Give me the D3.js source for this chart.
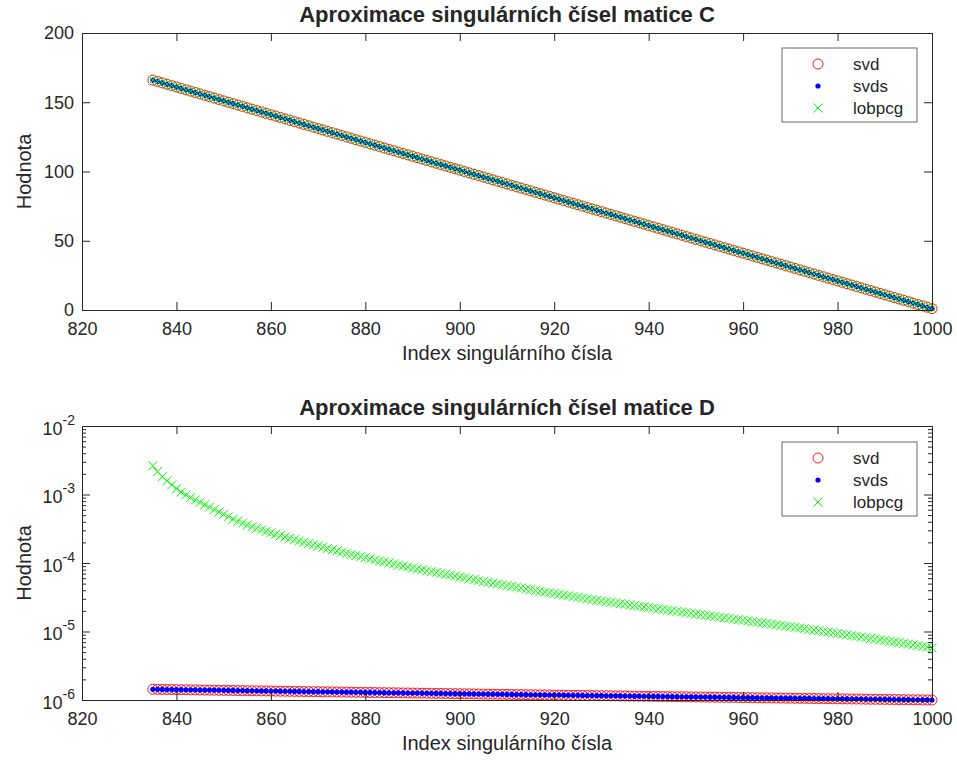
<!DOCTYPE html>
<html><head><meta charset="utf-8">
<script src="https://cdn.jsdelivr.net/npm/d3@7"></script>
<style>
body{margin:0;background:#fff}
svg text{font-family:"Liberation Sans",Arial,Helvetica,sans-serif;fill:#262626}
</style>
</head><body>
<svg id="chart" width="957" height="765"></svg>
<script>
// ---------------- DATA ----------------
const indices = d3.range(835, 1001); // index of singular value
const seriesNames = ["svd", "svds", "lobpcg"];
const seriesColors = ["#ff0000", "#0000ff", "#00ff00"];
const xTicks = [820, 840, 860, 880, 900, 920, 940, 960, 980, 1000];
const yTicksC = [0, 50, 100, 150, 200];
const yTicksD = [1e-6, 1e-5, 1e-4, 1e-3, 1e-2];
const yTickExpD = ["-6", "-5", "-4", "-3", "-2"];
const titleC = "Aproximace singulárních čísel matice C";
const titleD = "Aproximace singulárních čísel matice D";
const xLabel = "Index singulárního čísla";
const yLabel = "Hodnota";

// matrix C (all three methods coincide)
const svdC = [
166,165,164,163,162,161,160,159,158,157,156,155,154,153,152,151,150,149,148,147,
146,145,144,143,142,141,140,139,138,137,136,135,134,133,132,131,130,129,128,127,
126,125,124,123,122,121,120,119,118,117,116,115,114,113,112,111,110,109,108,107,
106,105,104,103,102,101,100,99,98,97,96,95,94,93,92,91,90,89,88,87,
86,85,84,83,82,81,80,79,78,77,76,75,74,73,72,71,70,69,68,67,
66,65,64,63,62,61,60,59,58,57,56,55,54,53,52,51,50,49,48,47,
46,45,44,43,42,41,40,39,38,37,36,35,34,33,32,31,30,29,28,27,
26,25,24,23,22,21,20,19,18,17,16,15,14,13,12,11,10,9,8,7,
6,5,4,3,2,1];
const svdsC = svdC;
const lobpcgC = svdC;

// matrix D: svd / svds values in units of 1e-6
const svdD_e6 = [
1.434,1.431,1.427,1.424,1.421,
1.417,1.414,1.411,1.407,1.404,1.400,1.397,1.394,1.391,1.387,
1.384,1.381,1.378,1.374,1.371,1.368,1.365,1.362,1.358,1.355,
1.352,1.349,1.346,1.343,1.340,1.336,1.333,1.330,1.327,1.324,
1.321,1.318,1.315,1.312,1.309,1.306,1.303,1.300,1.297,1.294,
1.291,1.288,1.285,1.282,1.280,1.277,1.274,1.271,1.268,1.265,
1.262,1.260,1.257,1.254,1.251,1.248,1.246,1.243,1.240,1.237,
1.235,1.232,1.229,1.226,1.224,1.221,1.218,1.216,1.213,1.210,
1.208,1.205,1.202,1.200,1.197,1.194,1.192,1.189,1.187,1.184,
1.181,1.179,1.176,1.174,1.171,1.169,1.166,1.164,1.161,1.159,
1.156,1.154,1.151,1.149,1.146,1.144,1.141,1.139,1.137,1.134,
1.132,1.129,1.127,1.125,1.122,1.120,1.117,1.115,1.113,1.110,
1.108,1.106,1.103,1.101,1.099,1.096,1.094,1.092,1.090,1.087,
1.085,1.083,1.081,1.078,1.076,1.074,1.072,1.069,1.067,1.065,
1.063,1.061,1.058,1.056,1.054,1.052,1.050,1.048,1.045,1.043,
1.041,1.039,1.037,1.035,1.033,1.031,1.028,1.026,1.024,1.022,
1.020,1.018,1.016,1.014,1.012,1.010,1.008,1.006,1.004,1.002,
1.000];
const svdsD_e6 = svdD_e6;
// matrix D: lobpcg values as log10
const lobpcgD_log10 = [
-2.580,-2.665,-2.740,-2.800,-2.860,
-2.915,-2.965,-3.005,-3.045,-3.080,-3.115,-3.150,-3.185,-3.220,-3.255,
-3.290,-3.325,-3.360,-3.390,-3.418,-3.445,-3.470,-3.494,-3.517,-3.539,
-3.560,-3.581,-3.601,-3.621,-3.641,-3.660,-3.679,-3.698,-3.717,-3.735,
-3.753,-3.771,-3.789,-3.807,-3.824,-3.841,-3.858,-3.875,-3.891,-3.907,
-3.923,-3.939,-3.955,-3.970,-3.985,-4.000,-4.015,-4.030,-4.045,-4.059,
-4.073,-4.087,-4.101,-4.114,-4.127,-4.140,-4.153,-4.166,-4.179,-4.192,
-4.205,-4.218,-4.231,-4.244,-4.257,-4.270,-4.282,-4.294,-4.306,-4.318,
-4.330,-4.342,-4.354,-4.366,-4.378,-4.389,-4.401,-4.412,-4.424,-4.435,
-4.446,-4.457,-4.468,-4.479,-4.490,-4.501,-4.512,-4.523,-4.534,-4.544,
-4.554,-4.564,-4.574,-4.584,-4.594,-4.603,-4.613,-4.622,-4.632,-4.641,
-4.651,-4.660,-4.670,-4.679,-4.688,-4.698,-4.707,-4.716,-4.726,-4.735,
-4.744,-4.754,-4.763,-4.772,-4.782,-4.791,-4.800,-4.809,-4.819,-4.828,
-4.837,-4.846,-4.856,-4.865,-4.874,-4.883,-4.893,-4.902,-4.911,-4.921,
-4.930,-4.940,-4.949,-4.959,-4.969,-4.979,-4.989,-4.999,-5.009,-5.019,
-5.029,-5.039,-5.049,-5.059,-5.069,-5.080,-5.090,-5.100,-5.110,-5.121,
-5.131,-5.142,-5.152,-5.163,-5.173,-5.184,-5.195,-5.206,-5.217,-5.228,
-5.240];

// ---------------- DRAW ----------------
const svg = d3.select("#chart");
const AX = "#262626";
const L = 82, R = 932;
const TICK = 8;
const TICKFONT = "18px", LABELFONT = "20px", TITLEFONT = "22px", LEGFONT = "17px";

function marker(g, type, color) {
  if (type === 0) g.append("circle").attr("r", 5).attr("fill", "none").attr("stroke", color).attr("stroke-width", 0.9);
  else if (type === 1) g.append("circle").attr("r", 2.6).attr("fill", color);
  else g.append("path").attr("d", "M-4.5,-4.5L4.5,4.5M-4.5,4.5L4.5,-4.5").attr("stroke", color).attr("stroke-width", 1).attr("fill", "none");
}

function panel(cfg) {
  const {top, bottom, y, title, series, log, legendTop} = cfg;
  const x = d3.scaleLinear().domain([820, 1000]).range([L, R]);
  const g = svg.append("g");

  // data markers
  series.forEach((vals, si) => {
    const sg = g.append("g");
    indices.forEach((idx, i) => {
      const m = sg.append("g").attr("transform", `translate(${x(idx)},${y(vals[i])})`);
      marker(m, si, seriesColors[si]);
    });
  });

  // axes
  g.append("g").attr("transform", `translate(0,${bottom})`)
    .call(d3.axisBottom(x).tickValues(xTicks).tickSizeInner(-TICK).tickSizeOuter(0).tickPadding(12).tickFormat(d3.format("d")));
  g.append("g").attr("transform", `translate(0,${top})`)
    .call(d3.axisTop(x).tickValues(xTicks).tickSizeInner(-TICK).tickSizeOuter(0).tickFormat(""));
  let yl;
  if (!log) {
    yl = g.append("g").attr("transform", `translate(${L},0)`)
      .call(d3.axisLeft(y).tickValues(yTicksC).tickSizeInner(-TICK).tickSizeOuter(0).tickPadding(8));
    g.append("g").attr("transform", `translate(${R},0)`)
      .call(d3.axisRight(y).tickValues(yTicksC).tickSizeInner(-TICK).tickSizeOuter(0).tickFormat(""));
  } else {
    yl = g.append("g").attr("transform", `translate(${L},0)`)
      .call(d3.axisLeft(y).tickValues(yTicksD).tickSizeInner(-TICK).tickSizeOuter(0).tickFormat(""));
    g.append("g").attr("transform", `translate(${R},0)`)
      .call(d3.axisRight(y).tickValues(yTicksD).tickSizeInner(-TICK).tickSizeOuter(0).tickFormat(""));
    yl.selectAll(".tick").each(function(d, i) {
      const t = d3.select(this).append("text").attr("x", -7).attr("y", 8).attr("text-anchor", "end")
        .style("font-size", TICKFONT).text("10");
      t.append("tspan").attr("dy", -10).style("font-size", "14px").text(yTickExpD[i]);
    });
    const minor = [];
    [-6, -5, -4, -3].forEach(k => [2,3,4,5,6,7,8,9].forEach(m => minor.push(m * Math.pow(10, k))));
    g.append("g").attr("transform", `translate(${L},0)`)
      .call(d3.axisLeft(y).tickValues(minor).tickSizeInner(-4).tickSizeOuter(0).tickFormat(""))
      .select(".domain").remove();
    g.append("g").attr("transform", `translate(${R},0)`)
      .call(d3.axisRight(y).tickValues(minor).tickSizeInner(-4).tickSizeOuter(0).tickFormat(""))
      .select(".domain").remove();
  }
  g.selectAll(".domain").attr("stroke", AX);
  g.selectAll(".tick line").attr("stroke", AX);
  g.selectAll(".tick text").style("font-size", TICKFONT).attr("fill", AX);

  // labels
  g.append("text").attr("x", (L + R) / 2).attr("y", top - 11).attr("text-anchor", "middle")
    .style("font-size", TITLEFONT).style("font-weight", "bold").attr("fill", "#000").text(title);
  g.append("text").attr("x", (L + R) / 2).attr("y", bottom + 50).attr("text-anchor", "middle")
    .style("font-size", LABELFONT).text(xLabel);
  g.append("text").attr("transform", `translate(31,${(top + bottom) / 2}) rotate(-90)`).attr("text-anchor", "middle")
    .style("font-size", LABELFONT).text(yLabel);

  // legend
  const lx = 782, lw = 135, lh = 74;
  const lg = g.append("g").attr("transform", `translate(${lx},${legendTop})`);
  lg.append("rect").attr("width", lw).attr("height", lh).attr("fill", "#fff").attr("stroke", "#444").attr("stroke-width", 0.8);
  seriesNames.forEach((n, i) => {
    const yy = 16 + i * 22;
    const m = lg.append("g").attr("transform", `translate(36,${yy})`);
    marker(m, i, seriesColors[i]);
    lg.append("text").attr("x", 71).attr("y", yy + 6).style("font-size", LEGFONT).attr("fill", "#000").text(n);
  });
}

// Panel C (linear)
const yC = d3.scaleLinear().domain([0, 200]).range([310, 33]);
panel({top: 33, bottom: 310, y: yC, title: titleC, log: false, legendTop: 48,
  series: [svdC, svdsC, lobpcgC]});

// Panel D (log)
const yD = d3.scaleLog().domain([1e-6, 1e-2]).range([700, 426]);
panel({top: 426, bottom: 700, y: yD, title: titleD, log: true, legendTop: 442,
  series: [svdD_e6.map(v => v * 1e-6), svdsD_e6.map(v => v * 1e-6), lobpcgD_log10.map(v => Math.pow(10, v))]});
</script>
</body></html>
